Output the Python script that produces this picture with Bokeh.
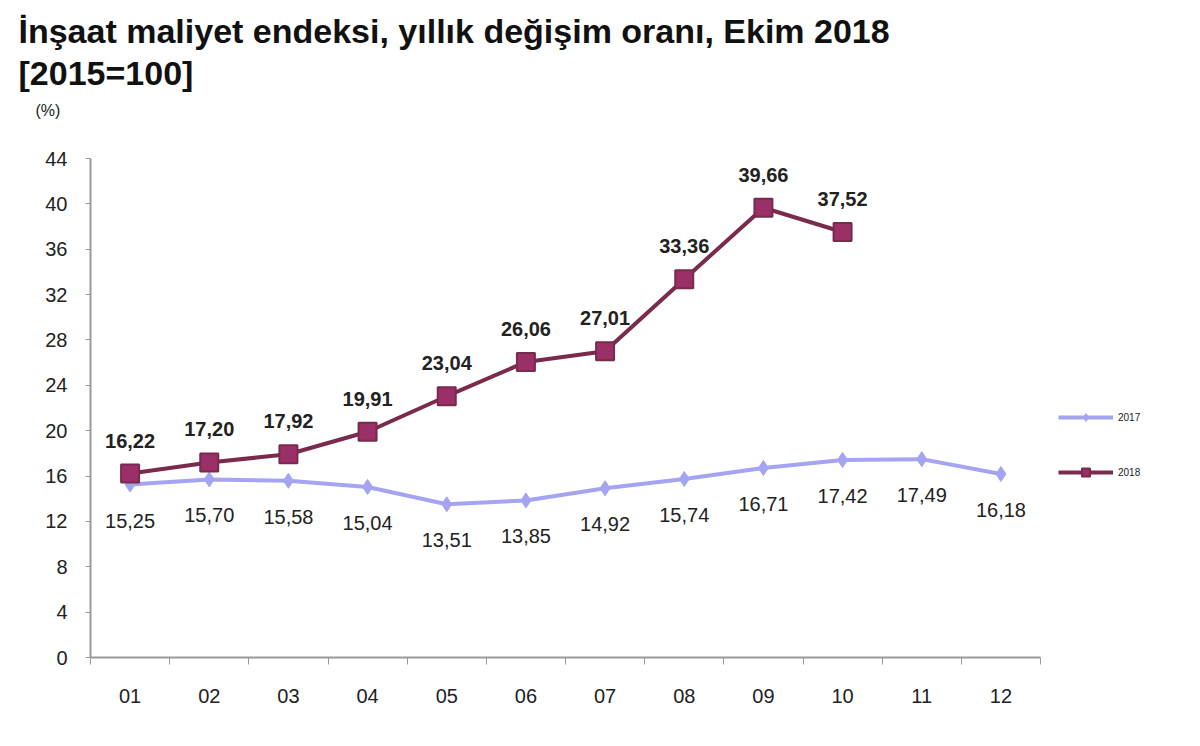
from bokeh.plotting import figure
from bokeh.models import ColumnDataSource, FixedTicker, Legend, LegendItem, Range1d, Title
from bokeh.core.properties import value
from bokeh.embed import file_html
from bokeh.resources import INLINE

months = ["01", "02", "03", "04", "05", "06", "07", "08", "09", "10", "11", "12"]
y2017 = [15.25, 15.70, 15.58, 15.04, 13.51, 13.85, 14.92, 15.74, 16.71, 17.42, 17.49, 16.18]
y2018 = [16.22, 17.20, 17.92, 19.91, 23.04, 26.06, 27.01, 33.36, 39.66, 37.52]
y_ticks = [0, 4, 8, 12, 16, 20, 24, 28, 32, 36, 40, 44]
title1 = "İnşaat maliyet endeksi, yıllık değişim oranı, Ekim 2018"
title2 = "[2015=100]"
unit = "(%)"
series_names = ["2017", "2018"]

FONT = "Liberation Sans"
C2017 = "#a4a4f2"
C2018_LINE = "#7a2a4c"
C2018_FILL = "#9b3068"

def fmt(v):
    return f"{v:.2f}".replace(".", ",")

n = len(months)
x17 = list(range(1, len(y2017) + 1))
x18 = list(range(1, len(y2018) + 1))
s17 = ColumnDataSource(dict(x=x17, y=y2017, t=[fmt(v) for v in y2017]))
s18 = ColumnDataSource(dict(x=x18, y=y2018, t=[fmt(v) for v in y2018]))

# frame spans 90..1190 px horizontally and 125..657 px vertically;
# the axes are bounded to the data area (months 1-12, 0-44 %)
y_top = y_ticks[-1]
x_end = 0.5 + 1100 * n / 950.0
y_end = y_top * (657 - 125) / (657 - 158)
p = figure(width=1200, height=746, output_backend="svg", toolbar_location=None,
           x_range=Range1d(0.5, x_end), y_range=Range1d(0, y_end),
           min_border_left=90, min_border_right=10, min_border_top=125, min_border_bottom=89)
p.outline_line_color = None
p.xgrid.visible = False
p.ygrid.visible = False

# Y axis
p.yaxis.bounds = (0, y_top)
p.yaxis.ticker = FixedTicker(ticks=y_ticks)
p.yaxis.axis_line_color = "#9a9a9a"
p.yaxis.axis_line_width = 2
p.yaxis.major_tick_line_color = "#9a9a9a"
p.yaxis.major_tick_out = 5
p.yaxis.major_tick_in = 0
p.yaxis.minor_tick_line_color = None
p.yaxis.major_label_text_font = FONT
p.yaxis.major_label_text_font_size = "20px"
p.yaxis.major_label_text_color = "#222222"
p.yaxis.major_label_standoff = 18

# X axis
p.xaxis.bounds = (0.5, n + 0.5)
p.xaxis.ticker = FixedTicker(ticks=list(range(1, n + 1)), minor_ticks=[i + 0.5 for i in range(0, n + 1)])
p.xaxis.major_label_overrides = {i + 1: m for i, m in enumerate(months)}
p.xaxis.axis_line_color = "#9a9a9a"
p.xaxis.axis_line_width = 2
p.xaxis.major_tick_line_color = None
p.xaxis.minor_tick_line_color = "#9a9a9a"
p.xaxis.minor_tick_out = 7
p.xaxis.minor_tick_in = 0
p.xaxis.major_label_text_font = FONT
p.xaxis.major_label_text_font_size = "20px"
p.xaxis.major_label_text_color = "#222222"
p.xaxis.major_label_standoff = 24

# 2017 series
l17 = p.line("x", "y", source=s17, line_color=C2017, line_width=4)
m17 = p.scatter("x", "y", source=s17, marker="diamond", size=15, fill_color=C2017, line_color=C2017)
p.text("x", "y", text="t", source=s17, x_offset=0, y_offset=36, text_align="center",
       text_baseline="middle", text_font=value(FONT), text_font_size="20px", text_color="#222222")

# 2018 series
l18 = p.line("x", "y", source=s18, line_color=C2018_LINE, line_width=4)
m18 = p.scatter("x", "y", source=s18, marker="square", size=18, fill_color=C2018_FILL,
                line_color=C2018_LINE, line_width=2)
p.text("x", "y", text="t", source=s18, x_offset=0, y_offset=-33, text_align="center",
       text_baseline="middle", text_font=value(FONT), text_font_size="20px",
       text_font_style="bold", text_color="#222222")

# Titles: added innermost first
p.add_layout(Title(text=unit, align="left", offset=-55, text_font=FONT, text_font_size="16px",
                   text_font_style="normal", text_color="#222222", standoff=14), "above")
p.add_layout(Title(text=title2, align="left", offset=-72, text_font=FONT, text_font_size="34px",
                   text_font_style="bold", text_color="#111111", standoff=2), "above")
p.add_layout(Title(text=title1, align="left", offset=-72, text_font=FONT, text_font_size="34px",
                   text_font_style="bold", text_color="#111111", standoff=1), "above")

legend = Legend(items=[LegendItem(label=series_names[0], renderers=[l17, m17]),
                       LegendItem(label=series_names[1], renderers=[l18, m18])],
                location=(968, 175), orientation="vertical",
                label_text_font=FONT, label_text_font_size="10px", label_text_color="#222222",
                glyph_width=55, glyph_height=20, label_height=20, spacing=35,
                padding=0, margin=0, border_line_color=None, background_fill_alpha=0)
p.add_layout(legend, "center")

open("out.html", "w").write(file_html(p, INLINE))
